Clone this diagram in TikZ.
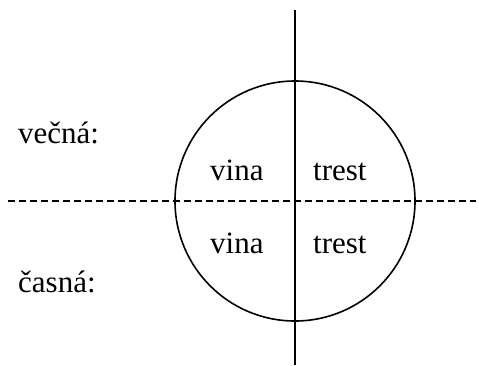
\documentclass[tikz,border=0pt]{standalone}
\usepackage{fontspec}
\setmainfont{Liberation Serif}
\usepackage{tikz}
\usetikzlibrary{positioning}

\begin{document}
\begin{tikzpicture}[
  x=1pt, y=-1pt,
  word/.style={inner sep=0pt, anchor=base west, font=\fontsize{31}{36}\selectfont},
  axis/.style={line width=1.6pt},
  split/.style={line width=1.5pt, dash pattern=on 7pt off 4pt},
]
  \useasboundingbox (0,0) rectangle (479,365);
  \node[draw, circle, line width=1.6pt, minimum size=240pt, inner sep=0pt] (whole) at (295,201) {};
  \coordinate (top) at (295,10);
  \coordinate (bottom) at (295,365);
  \coordinate (left) at (8,201);
  \coordinate (right) at (476,201);
  \draw[axis] (top) -- (bottom);
  \draw[split] (left) -- (right);
  \node[word] (vecna) at (18,143) {večná:};
  \node[word] (casna) at (18,292) {časná:};
  \node[word] (vina1) at (210,180) {vina};
  \node[word] (trest1) at (313,180) {trest};
  \node[word] (vina2) at (210,253) {vina};
  \node[word] (trest2) at (313,253) {trest};
\end{tikzpicture}
\end{document}
